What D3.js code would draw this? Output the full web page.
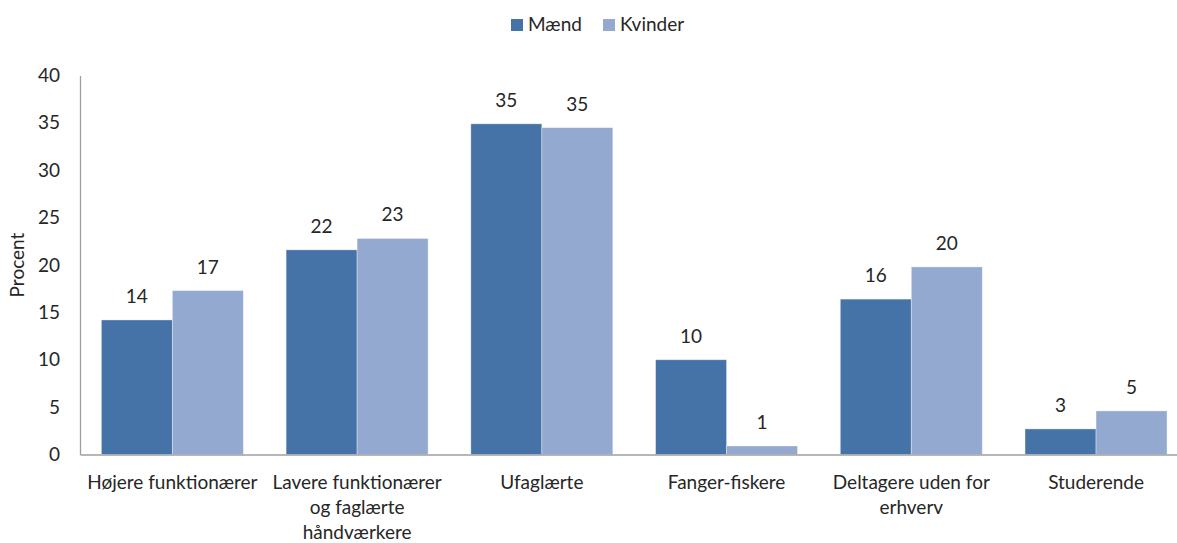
<!DOCTYPE html>
<html>
<head>
<meta charset="utf-8">
<script src="https://cdn.jsdelivr.net/npm/d3@7"></script>
<style>
  html, body { margin: 0; padding: 0; background: #fff; }
  svg { display: block; }
  text { font-family: Lato, "Open Sans", sans-serif; fill: #262626; }
</style>
</head>
<body>
<svg id="chart" width="1177" height="543"></svg>
<script>
const categories = [
  ["Højere funktionærer"],
  ["Lavere funktionærer", "og faglærte", "håndværkere"],
  ["Ufaglærte"],
  ["Fanger-fiskere"],
  ["Deltagere uden for", "erhverv"],
  ["Studerende"]
];
const seriesNames = ["Mænd", "Kvinder"];
const maend   = [14.2, 21.6, 34.9, 10.0, 16.4, 2.7];
const kvinder = [17.3, 22.8, 34.5, 0.9, 19.8, 4.6];
const yTicks = [0, 5, 10, 15, 20, 25, 30, 35, 40];
const yLabel = "Procent";

const colors = ["#4572A7", "#94A9D0"];
const plotLeft = 80, plotRight = 1188.4, plotTop = 75.5, plotBottom = 454.5;
const fontSize = 19;

const svg = d3.select("#chart");
const keys = categories.map((c, i) => i);
const x0 = d3.scaleBand().domain(keys).range([plotLeft, plotRight]).paddingInner(0.2314).paddingOuter(0.1157);
const x1 = d3.scaleBand().domain(seriesNames).range([0, x0.bandwidth()]);
const y = d3.scaleLinear().domain([0, 40]).range([plotBottom, plotTop]);

const data = keys.map(i => ({ i, vals: [ {s: "Mænd", v: maend[i]}, {s: "Kvinder", v: kvinder[i]} ] }));

// bars
const groups = svg.append("g").selectAll("g").data(data).join("g")
  .attr("transform", d => `translate(${x0(d.i)},0)`);
groups.selectAll("rect").data(d => d.vals).join("rect")
  .attr("x", d => x1(d.s))
  .attr("y", d => y(d.v))
  .attr("width", x1.bandwidth())
  .attr("height", d => y(0) - y(d.v))
  .attr("fill", (d, j) => colors[j])
  .attr("stroke", "#ffffff")
  .attr("stroke-opacity", 0.45)
  .attr("stroke-width", 0.8);
groups.selectAll("text.val").data(d => d.vals).join("text")
  .attr("class", "val")
  .attr("x", d => x1(d.s) + x1.bandwidth() / 2)
  .attr("y", d => y(d.v) - 17)
  .attr("text-anchor", "middle")
  .style("font-size", fontSize + "px")
  .text(d => d3.format(".0f")(d.v));

// y axis
const yAxis = d3.axisLeft(y).tickValues(yTicks).tickSize(0).tickPadding(20);
const gy = svg.append("g").attr("transform", `translate(${plotLeft},0)`).call(yAxis);
gy.select(".domain").attr("stroke", "#9f9f9f").attr("stroke-width", 1.3);
gy.selectAll("text").style("font-size", fontSize + "px").style("font-family", "Lato, sans-serif").attr("fill", "#262626");

// x axis
const xAxis = d3.axisBottom(x0).tickSize(0).tickFormat(() => "");
const gx = svg.append("g").attr("transform", `translate(0,${plotBottom})`).call(xAxis);
gx.select(".domain").attr("stroke", "#9f9f9f").attr("stroke-width", 1.3);
gx.selectAll(".tick").each(function(i) {
  const t = d3.select(this).append("text")
    .attr("text-anchor", "middle")
    .style("font-size", fontSize + "px")
    .style("font-family", "Lato, sans-serif")
    .attr("fill", "#262626");
  categories[i].forEach((line, k) => {
    t.append("tspan").attr("x", 0).attr("y", 34 + k * 25).text(line);
  });
});

// y label
svg.append("text")
  .attr("transform", `translate(24,265) rotate(-90)`)
  .attr("text-anchor", "middle")
  .style("font-size", fontSize + "px")
  .text(yLabel);

// legend
const legendPos = [511, 603];
const lg = svg.append("g").selectAll("g").data(seriesNames).join("g")
  .attr("transform", (d, j) => `translate(${legendPos[j]},19)`);
lg.append("rect").attr("width", 12).attr("height", 12).attr("fill", (d, j) => colors[j]);
lg.append("text").attr("x", 17).attr("y", 12).style("font-size", fontSize + "px").text(d => d);
</script>
</body>
</html>
